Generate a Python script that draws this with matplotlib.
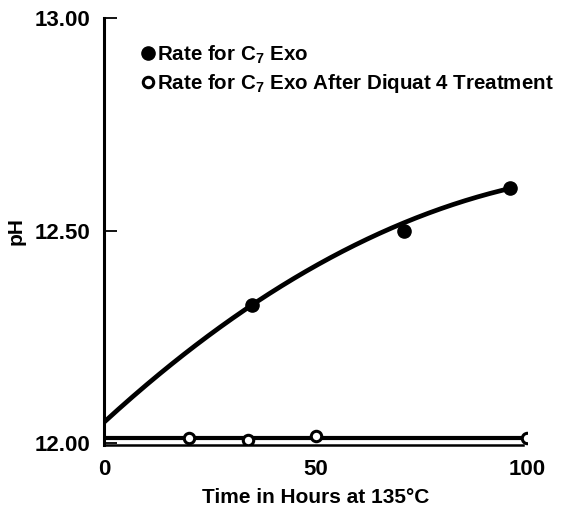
import matplotlib
matplotlib.use("Agg")
import matplotlib.pyplot as plt
import numpy as np

# measured rates
time_exo = [35, 71, 96]
ph_exo = [12.325, 12.50, 12.60]

time_diquat = [20, 34, 50, 100]
ph_diquat = [12.012, 12.008, 12.016, 12.012]

# points along the drawn trend curve for C7 Exo
curve_t = [0, 35, 50, 71, 96]
curve_ph = [12.05, 12.32, 12.425, 12.515, 12.60]

xticks = [0, 50, 100]
yticks = [12.00, 12.50, 13.00]

plt.rcParams['font.family'] = 'Liberation Sans'
plt.rcParams['font.weight'] = 'bold'
plt.rcParams['mathtext.fontset'] = 'custom'
plt.rcParams['mathtext.rm'] = 'Liberation Sans:bold'
plt.rcParams['mathtext.bf'] = 'Liberation Sans:bold'
plt.rcParams['mathtext.default'] = 'bf'

fig = plt.figure(figsize=(5.61, 5.08), dpi=100)
ax = fig.add_axes([104 / 561, 1 - 445 / 508, (527 - 104) / 561, (445 - 18) / 508])

# smooth trend through the Exo data
coef = np.polyfit(curve_t, curve_ph, 2)
tt = np.linspace(0, max(curve_t), 200)
ax.plot(tt, np.polyval(coef, tt), color='black', lw=3.4, solid_capstyle='butt', zorder=3)
ax.plot(time_exo, ph_exo, 'o', color='black', ms=9.5, zorder=4,
        label=r'Rate for C$_7$ Exo')

# flat line after treatment
flat = np.mean(ph_diquat)
ax.plot([0, 100], [flat, flat], color='black', lw=3, solid_capstyle='butt', zorder=3)
ax.plot(time_diquat, ph_diquat, 'o', mfc='white', mec='black', mew=2.2, ms=7.5, zorder=4,
        label=r'Rate for C$_7$ Exo After Diquat 4 Treatment')

ax.set_xlim(0, 100)
ax.set_ylim(11.996, 13.0)
ax.set_xticks(xticks)
ax.set_xticklabels(['0', '50', '100'])
ax.set_yticks(yticks)
ax.set_yticklabels(['%.2f' % v for v in yticks])

for s in ['top', 'right']:
    ax.spines[s].set_visible(False)
ax.spines['left'].set_linewidth(2.2)
ax.spines['bottom'].set_linewidth(1.8)
ax.spines['bottom'].set_bounds(0, 99)

ax.tick_params(axis='y', direction='in', length=9.5, width=1.3, labelsize=16, pad=10)
ax.tick_params(axis='x', length=0, labelsize=16, pad=10)

ax.set_xlabel('Time in Hours at 135°C', fontsize=15, fontweight='bold')
ax.xaxis.set_label_coords(0.5, -0.1)
ax.set_ylabel('pH', fontsize=15, fontweight='bold')
ax.yaxis.set_label_coords(-0.185, 0.5)

ax.legend(loc='upper left', bbox_to_anchor=(0.075, 0.96), frameon=False,
          fontsize=14.8, handlelength=0.4, handletextpad=0.25, labelspacing=0.3,
          borderaxespad=0)

fig.savefig('out.png', dpi=100)
